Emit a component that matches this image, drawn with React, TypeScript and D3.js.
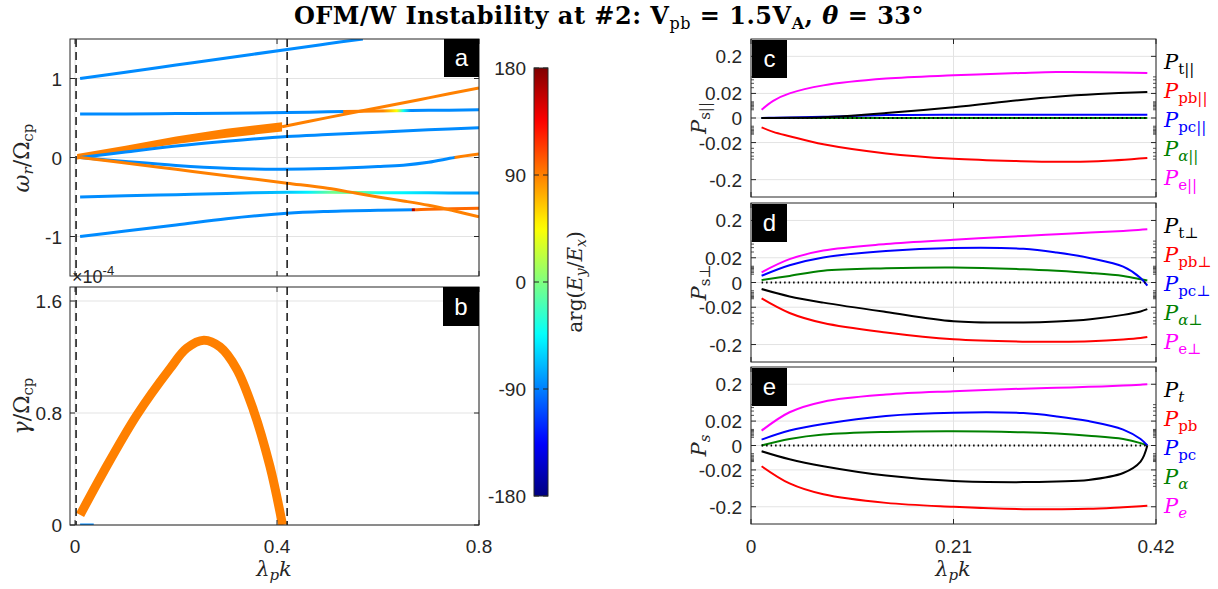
import React from 'react';
import * as d3 from 'd3';

// ---------- Panel a: real frequency branches (k, omega_r, phase stops) ----------
const l1K = [0.01, 0.1, 0.2, 0.3, 0.42, 0.5, 0.57];
const l1W = [1.0, 1.08, 1.17, 1.26, 1.367, 1.44, 1.5];
const l1PK = [0.01, 0.57];
const l1PV = [-86, -86];

const l2K = [0.01, 0.1, 0.2, 0.3, 0.42, 0.5, 0.6, 0.7, 0.8];
const l2W = [0.55, 0.552, 0.556, 0.56, 0.57, 0.578, 0.588, 0.597, 0.603];
const l2PK = [0.01, 0.53, 0.532, 0.61, 0.637, 0.65, 0.665, 0.8];
const l2PV = [-86, -86, 92, 88, 45, -40, -86, -86];

const l3K = [0.41, 0.5, 0.6, 0.7, 0.8];
const l3W = [0.39, 0.505, 0.63, 0.755, 0.88];
const l3PK = [0.41, 0.8];
const l3PV = [90, 90];

const wedgeK = [0.004, 0.1, 0.2, 0.3, 0.41];
const wedgeUp = [0.045, 0.15, 0.265, 0.365, 0.445];
const wedgeLo = [-0.025, 0.075, 0.17, 0.25, 0.33];

const l4K = [0.01, 0.1, 0.2, 0.3, 0.42, 0.5, 0.6, 0.7, 0.8];
const l4W = [0.0, 0.07, 0.145, 0.205, 0.265, 0.29, 0.32, 0.35, 0.378];
const l4PK = [0.01, 0.8];
const l4PV = [-86, -86];

const l5K = [0.01, 0.1, 0.2, 0.3, 0.4, 0.5, 0.6, 0.65, 0.7, 0.752, 0.8];
const l5W = [0.0, -0.05, -0.1, -0.135, -0.148, -0.14, -0.115, -0.097, -0.06, 0.0, 0.043];
const l5PK = [0.01, 0.75, 0.753, 0.8];
const l5PV = [-86, -86, 90, 90];

const l6K = [0.01, 0.1, 0.2, 0.3, 0.42, 0.5, 0.555, 0.6, 0.65, 0.7, 0.75, 0.8];
const l6W = [0.0, -0.07, -0.15, -0.23, -0.325, -0.39, -0.45, -0.5, -0.55, -0.605, -0.675, -0.75];
const l6PK = [0.01, 0.8];
const l6PV = [90, 90];

const l7K = [0.01, 0.1, 0.2, 0.3, 0.42, 0.5, 0.6, 0.7, 0.8];
const l7W = [-0.5, -0.485, -0.47, -0.455, -0.44, -0.44, -0.445, -0.447, -0.45];
const l7PK = [0.01, 0.3, 0.42, 0.46, 0.51, 0.56, 0.6, 0.65, 0.75, 0.8];
const l7PV = [-86, -82, -65, -50, -5, -8, -38, -48, -75, -80];

const l8K = [0.01, 0.1, 0.2, 0.3, 0.42, 0.5, 0.6, 0.67, 0.7, 0.8];
const l8W = [-1.0, -0.93, -0.855, -0.775, -0.706, -0.683, -0.668, -0.662, -0.656, -0.643];
const l8PK = [0.01, 0.666, 0.668, 0.672, 0.674, 0.8];
const l8PV = [-86, -86, 165, 165, 98, 98];

// ---------- Panel b: growth rate (x1e-4) ----------
const gK = [0.01, 0.056, 0.122, 0.188, 0.221, 0.255, 0.287, 0.32, 0.353, 0.386, 0.411];
const gV = [0.072, 0.377, 0.783, 1.117, 1.262, 1.32, 1.272, 1.115, 0.824, 0.418, 0.0];
const gBlueK = [0.01, 0.037];
const gBlueV = [0.0, 0.0];

// ---------- Panels c, d, e: energy transfer ----------
const cK = [0.011, 0.023, 0.04, 0.075, 0.14, 0.21, 0.28, 0.317, 0.36, 0.411];
const cPt = [0.0, 0.0, 0.0001, 0.0003, 0.0022, 0.0057, 0.0119, 0.0155, 0.019, 0.0224];
const cPpb = [-0.0047, -0.008, -0.012, -0.0227, -0.042, -0.0588, -0.068, -0.0707, -0.068, -0.0557];
const cPpc = [0.0, 0.0001, 0.0002, 0.0005, 0.0012, 0.0014, 0.0014, 0.0014, 0.0014, 0.0014];
const cPa = [0.0, 0.0, 0.0, 0.0, 0.0, 0.0, 0.0, 0.0, 0.0, 0.0];
const cPe = [0.004, 0.011, 0.02, 0.035, 0.054, 0.066, 0.076, 0.0805, 0.08, 0.0755];

const dK = [0.011, 0.04, 0.075, 0.14, 0.21, 0.2825, 0.317, 0.352, 0.386, 0.404, 0.411];
const dPt = [-0.003, -0.008, -0.014, -0.028, -0.051, -0.055, -0.052, -0.045, -0.034, -0.027, -0.023];
const dPpb = [-0.0097, -0.03, -0.057, -0.1, -0.149, -0.17, -0.17, -0.165, -0.15, -0.138, -0.13];
const dPpc = [0.0031, 0.011, 0.0205, 0.032, 0.0389, 0.037, 0.029, 0.0194, 0.0097, 0.002, -0.0013];
const dPa = [0.001, 0.003, 0.0063, 0.0082, 0.0089, 0.0075, 0.0063, 0.0048, 0.003, 0.0014, 0.0008];
const dPe = [0.0052, 0.018, 0.033, 0.05, 0.065, 0.082, 0.09, 0.1, 0.11, 0.118, 0.1216];

const eK = [0.011, 0.04, 0.075, 0.14, 0.21, 0.2825, 0.317, 0.35, 0.386, 0.404, 0.411];
const ePt = [-0.0026, -0.008, -0.015, -0.03, -0.043, -0.046, -0.044, -0.04, -0.025, -0.01, 0.0];
const ePpb = [-0.015, -0.05, -0.097, -0.16, -0.2, -0.23, -0.23, -0.225, -0.205, -0.195, -0.19];
const ePpc = [0.0027, 0.009, 0.016, 0.029, 0.036, 0.035, 0.028, 0.02, 0.0099, 0.003, 0.0];
const ePa = [0.0, 0.003, 0.0058, 0.0078, 0.0084, 0.0075, 0.0065, 0.005, 0.003, 0.001, 0.0];
const ePe = [0.0089, 0.037, 0.072, 0.11, 0.134, 0.155, 0.163, 0.172, 0.185, 0.195, 0.2];

const aYTicks = [-1, 0, 1];
const aXTicks = [0, 0.4, 0.8];
const bYTicks = [0, 0.8, 1.6];
const bYLabels = ['0', '0.8', '1.6'];
const cbTicks = [180, 90, 0, -90, -180];
const rYTicks = [0.2, 0.02, 0, -0.02, -0.2];
const rYLabels = ['0.2', '0.02', '0', '-0.02', '-0.2'];
const rYMinor = [0.004, 0.005, 0.006, 0.007, 0.008, 0.009, 0.01, 0.03, 0.04, 0.05, 0.06];
const rXTicks = [0, 0.21, 0.42];
const rXLabels = ['0', '0.21', '0.42'];
const dashK = [0.002, 0.42];

const SANS = '"Liberation Sans", Arial, Helvetica, sans-serif';
const SERIF = '"DejaVu Serif", "Liberation Serif", serif';
const AX = '#262626';
const GRID = '#e3e3e3';
const TF = 19;

function jet(phase: number): string {
  const t = (phase + 180) / 360;
  const c = (v: number) => Math.max(0, Math.min(1, v));
  const r = c(Math.min(4 * t - 1.5, -4 * t + 4.5));
  const g = c(Math.min(4 * t - 0.5, -4 * t + 3.5));
  const b = c(Math.min(4 * t + 0.5, -4 * t + 2.5));
  return d3.rgb(r * 255, g * 255, b * 255).formatHex();
}

const xA = d3.scaleLinear().domain([-0.01, 0.8]).range([70, 479]);
const yA = d3.scaleLinear().domain([-1.5, 1.5]).range([276, 39]);
const yB = d3.scaleLinear().domain([0, 1.7]).range([525, 287]);
const xR = d3.scaleLinear().domain([0, 0.42]).range([751, 1156]);
const cbY = d3.scaleLinear().domain([-180, 180]).range([496, 68]);

const rPanels = [
  { id: 'c', t: 39, b: 197, K: cK, S: [cPt, cPpb, cPpc, cPa, cPe], sub: ['t||', 'pb||', 'pc||', 'α||', 'e||'], it: [false, false, false, true, false], ylab: 's||' },
  { id: 'd', t: 203, b: 362, K: dK, S: [dPt, dPpb, dPpc, dPa, dPe], sub: ['t⊥', 'pb⊥', 'pc⊥', 'α⊥', 'e⊥'], it: [false, false, false, true, false], ylab: 's⊥' },
  { id: 'e', t: 367, b: 524, K: eK, S: [ePt, ePpb, ePpc, ePa, ePe], sub: ['t', 'pb', 'pc', 'α', 'e'], it: [true, false, false, true, true], ylab: 's' },
];
const rColors = ['#000000', '#ff0000', '#0000ff', '#008000', '#ff00ff'];
const drawOrder = [3, 4, 2, 0, 1];

const phaseLines = [
  { K: l1K, W: l1W, PK: l1PK, PV: l1PV },
  { K: l2K, W: l2W, PK: l2PK, PV: l2PV },
  { K: l4K, W: l4W, PK: l4PK, PV: l4PV },
  { K: l5K, W: l5W, PK: l5PK, PV: l5PV },
  { K: l7K, W: l7W, PK: l7PK, PV: l7PV },
  { K: l8K, W: l8W, PK: l8PK, PV: l8PV },
  { K: l6K, W: l6W, PK: l6PK, PV: l6PV },
  { K: l3K, W: l3W, PK: l3PK, PV: l3PV },
];

function Ticks({ l, r, t, b, xs, ys, xScale, yScale, len = 5 }: any) {
  return (
    <g stroke={AX} strokeWidth={1}>
      {xs.map((v: number, i: number) => (
        <g key={'x' + i}>
          <line x1={xScale(v)} x2={xScale(v)} y1={b} y2={b - len} />
          <line x1={xScale(v)} x2={xScale(v)} y1={t} y2={t + len} />
        </g>
      ))}
      {ys.map((v: number, i: number) => (
        <g key={'y' + i}>
          <line x1={l} x2={l + len} y1={yScale(v)} y2={yScale(v)} />
          <line x1={r} x2={r - len} y1={yScale(v)} y2={yScale(v)} />
        </g>
      ))}
    </g>
  );
}

function Grid({ l, r, t, b, xs, ys, xScale, yScale }: any) {
  return (
    <g stroke={GRID} strokeWidth={1}>
      {xs.map((v: number, i: number) => (
        <line key={'gx' + i} x1={xScale(v)} x2={xScale(v)} y1={t} y2={b} />
      ))}
      {ys.map((v: number, i: number) => (
        <line key={'gy' + i} x1={l} x2={r} y1={yScale(v)} y2={yScale(v)} />
      ))}
    </g>
  );
}

function Tag({ x, y, w, h, s }: any) {
  return (
    <g>
      <rect x={x} y={y} width={w} height={h} fill="#000" />
      <text x={x + w / 2} y={y + h / 2 + 8} textAnchor="middle" fill="#fff" fontFamily={SANS} fontSize={24}>{s}</text>
    </g>
  );
}

export default function App() {
  const curve = d3.curveCatmullRom.alpha(0.5);
  const lineA = d3.line<[number, number]>().x(d => xA(d[0])).y(d => yA(d[1])).curve(curve);
  const lineB = d3.line<[number, number]>().x(d => xA(d[0])).y(d => yB(d[1])).curve(curve);
  const wedge = d3.area<number>().x((_, i) => xA(wedgeK[i])).y0((_, i) => yA(wedgeLo[i])).y1((_, i) => yA(wedgeUp[i]));
  const zip = (a: number[], b: number[]) => a.map((v, i) => [v, b[i]] as [number, number]);

  const cbStops = d3.range(0, 1.0001, 0.02);

  return (
    <svg width={1218} height={589} style={{ position: 'absolute', left: 0, top: 0, background: '#fff' }}>
      <defs>
        <clipPath id="clipA"><rect x={70} y={39} width={409} height={237} /></clipPath>
        <clipPath id="clipB"><rect x={70} y={287} width={409} height={238} /></clipPath>
        <linearGradient id="cbGrad" x1="0" y1="1" x2="0" y2="0">
          {cbStops.map((t, i) => (
            <stop key={i} offset={t} stopColor={jet(t * 360 - 180)} />
          ))}
        </linearGradient>
        {phaseLines.map((ln, i) => {
          const k0 = ln.K[0], k1 = ln.K[ln.K.length - 1];
          return (
            <linearGradient key={i} id={'pg' + i} gradientUnits="userSpaceOnUse" x1={xA(k0)} x2={xA(k1)} y1={0} y2={0}>
              {ln.PK.map((k, j) => (
                <stop key={j} offset={Math.max(0, Math.min(1, (k - k0) / (k1 - k0)))} stopColor={jet(ln.PV[j])} />
              ))}
            </linearGradient>
          );
        })}
      </defs>

      {/* Title */}
      <text x={609} y={24} textAnchor="middle" fontFamily={SERIF} fontSize={24} letterSpacing={0.5} fontWeight="bold" fill="#000">
        OFM/W Instability at #2: V<tspan fontSize={16} fontWeight="normal" dy={5}>pb</tspan>
        <tspan dy={-5}> = 1.5V</tspan><tspan fontSize={16} dy={5}>A</tspan>
        <tspan dy={-5}>, </tspan><tspan fontStyle="italic">θ</tspan><tspan> = 33°</tspan>
      </text>

      {/* ---------- Panel a ---------- */}
      <Grid l={70} r={479} t={39} b={276} xs={aXTicks} ys={aYTicks} xScale={xA} yScale={yA} />
      <g clipPath="url(#clipA)">
        <path d={wedge(wedgeK) || ''} fill={jet(90)} />
        {phaseLines.map((ln, i) => (
          <path key={i} d={lineA(zip(ln.K, ln.W)) || ''} fill="none" stroke={`url(#pg${i})`} strokeWidth={3} />
        ))}
      </g>
      {dashK.map((k, i) => (
        <line key={i} x1={xA(k)} x2={xA(k)} y1={39} y2={276} stroke="#000" strokeWidth={1.4} strokeDasharray="8,5" />
      ))}
      <Ticks l={70} r={479} t={39} b={276} xs={aXTicks} ys={aYTicks} xScale={xA} yScale={yA} />
      <rect x={70} y={39} width={409} height={237} fill="none" stroke={AX} strokeWidth={1} />
      {aYTicks.map((v, i) => (
        <text key={i} x={62} y={yA(v) + 7} textAnchor="end" fontFamily={SANS} fontSize={TF} fill={AX}>{String(v)}</text>
      ))}
      <Tag x={444} y={39} w={35} h={38} s="a" />
      <text transform="translate(29,158) rotate(-90)" textAnchor="middle" fontFamily={SERIF} fontSize={22} fill={AX}>
        <tspan fontStyle="italic">ω</tspan><tspan fontStyle="italic" fontSize={15} dy={4}>r</tspan>
        <tspan dy={-4}>/Ω</tspan><tspan fontSize={15} dy={4}>cp</tspan>
      </text>

      {/* ---------- Panel b ---------- */}
      <Grid l={70} r={479} t={287} b={525} xs={aXTicks} ys={bYTicks} xScale={xA} yScale={yB} />
      <g clipPath="url(#clipB)">
        <path d={lineB(zip(gBlueK, gBlueV)) || ''} fill="none" stroke={jet(-86)} strokeWidth={3} />
        <path d={lineB(zip(gK, gV)) || ''} fill="none" stroke={jet(90)} strokeWidth={9} />
      </g>
      {dashK.map((k, i) => (
        <line key={i} x1={xA(k)} x2={xA(k)} y1={287} y2={525} stroke="#000" strokeWidth={1.4} strokeDasharray="8,5" />
      ))}
      <Ticks l={70} r={479} t={287} b={525} xs={aXTicks} ys={bYTicks} xScale={xA} yScale={yB} />
      <rect x={70} y={287} width={409} height={238} fill="none" stroke={AX} strokeWidth={1} />
      {bYTicks.map((v, i) => (
        <text key={i} x={62} y={yB(v) + 7} textAnchor="end" fontFamily={SANS} fontSize={TF} fill={AX}>{bYLabels[i]}</text>
      ))}
      {aXTicks.map((v, i) => (
        <text key={i} x={xA(v)} y={553} textAnchor="middle" fontFamily={SANS} fontSize={TF} fill={AX}>{String(v)}</text>
      ))}
      <text x={72} y={283} fontFamily={SANS} fontSize={18} fill={AX}>
        ×10<tspan fontSize={13} dy={-8}>-4</tspan>
      </text>
      <Tag x={443} y={287} w={36} h={39} s="b" />
      <text transform="translate(29,406) rotate(-90)" textAnchor="middle" fontFamily={SERIF} fontSize={22} fill={AX}>
        <tspan fontStyle="italic">γ</tspan><tspan>/Ω</tspan><tspan fontSize={15} dy={4}>cp</tspan>
      </text>
      <text x={274} y={576} textAnchor="middle" fontFamily={SERIF} fontSize={21} fill={AX} fontStyle="italic">
        λ<tspan fontSize={15} dy={4}>p</tspan><tspan dy={-4}>k</tspan>
      </text>

      {/* ---------- Colorbar ---------- */}
      <rect x={534} y={68} width={14} height={428} fill="url(#cbGrad)" stroke={AX} strokeWidth={1} />
      {cbTicks.map((v, i) => (
        <g key={i}>
          <line x1={534} x2={539} y1={cbY(v)} y2={cbY(v)} stroke={AX} />
          <line x1={548} x2={543} y1={cbY(v)} y2={cbY(v)} stroke={AX} />
          <text x={526} y={cbY(v) + 7} textAnchor="end" fontFamily={SANS} fontSize={TF} fill={AX}>{String(v)}</text>
        </g>
      ))}
      <text transform="translate(582,282) rotate(-90)" textAnchor="middle" fontFamily={SERIF} fontSize={20} fill={AX}>
        arg(<tspan fontStyle="italic">E</tspan><tspan fontStyle="italic" fontSize={14} dy={4}>y</tspan>
        <tspan dy={-4}>/</tspan><tspan fontStyle="italic">E</tspan><tspan fontStyle="italic" fontSize={14} dy={4}>x</tspan><tspan dy={-4}>)</tspan>
      </text>

      {/* ---------- Panels c, d, e ---------- */}
      {rPanels.map((p) => {
        const yS = d3.scaleSymlog().constant(0.007).domain([-0.53, 0.53]).range([p.b, p.t]);
        const ln = d3.line<[number, number]>().x(d => xR(d[0])).y(d => yS(d[1])).curve(curve);
        const minor = rYMinor.concat(rYMinor.map(v => -v));
        const mid = (p.t + p.b) / 2;
        return (
          <g key={p.id}>
            <Grid l={751} r={1156} t={p.t} b={p.b} xs={rXTicks} ys={rYTicks} xScale={xR} yScale={yS} />
            {drawOrder.map((si) => (
              <path key={si} d={ln(zip(p.K, p.S[si])) || ''} fill="none" stroke={rColors[si]} strokeWidth={2} />
            ))}
            <line x1={xR(p.K[0])} x2={xR(p.K[p.K.length - 1])} y1={yS(0)} y2={yS(0)} stroke="#000" strokeWidth={2} strokeDasharray="1.5,3" />
            <Ticks l={751} r={1156} t={p.t} b={p.b} xs={rXTicks} ys={rYTicks} xScale={xR} yScale={yS} />
            <g stroke={AX} strokeWidth={0.8}>
              {minor.map((v, i) => (
                <g key={i}>
                  <line x1={751} x2={754} y1={yS(v)} y2={yS(v)} />
                  <line x1={1156} x2={1153} y1={yS(v)} y2={yS(v)} />
                </g>
              ))}
            </g>
            <rect x={751} y={p.t} width={405} height={p.b - p.t} fill="none" stroke={AX} strokeWidth={1} />
            {rYTicks.map((v, i) => (
              <text key={i} x={742} y={yS(v) + 7} textAnchor="end" fontFamily={SANS} fontSize={TF} fill={AX}>{rYLabels[i]}</text>
            ))}
            <Tag x={752} y={p.t + 1} w={35} h={38} s={p.id} />
            <text transform={`translate(706,${mid}) rotate(-90)`} textAnchor="middle" fontFamily={SERIF} fontSize={21} fill={AX}>
              <tspan fontStyle="italic">P</tspan><tspan fontSize={15} dy={4} fontStyle={p.id === 'e' ? 'italic' : 'normal'}>{p.ylab}</tspan>
            </text>
            {p.sub.map((s, i) => (
              <text key={i} x={1164} y={p.t + 30 + i * 29} fontFamily={SERIF} fontSize={21} fill={rColors[i]}>
                <tspan fontStyle="italic">P</tspan><tspan fontSize={15} dy={5} fontStyle={p.it[i] ? 'italic' : 'normal'}>{s}</tspan>
              </text>
            ))}
          </g>
        );
      })}
      {rXTicks.map((v, i) => (
        <text key={i} x={xR(v)} y={553} textAnchor="middle" fontFamily={SANS} fontSize={TF} fill={AX}>{rXLabels[i]}</text>
      ))}
      <text x={953} y={576} textAnchor="middle" fontFamily={SERIF} fontSize={21} fill={AX} fontStyle="italic">
        λ<tspan fontSize={15} dy={4}>p</tspan><tspan dy={-4}>k</tspan>
      </text>
    </svg>
  );
}
